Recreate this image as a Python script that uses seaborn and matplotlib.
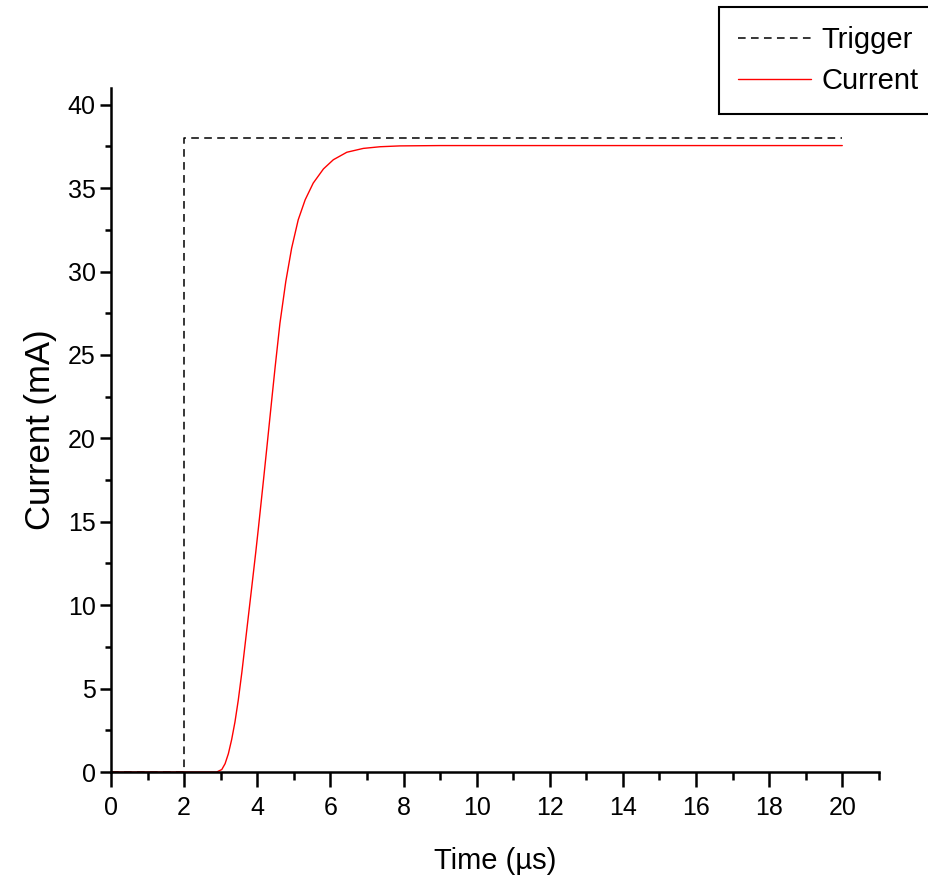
import pandas as pd
import matplotlib.pyplot as plt
import seaborn as sns

# Sinal de disparo (trigger)
trig_t = [0, 2.0, 2.0, 20]
trig_i = [0, 0, 38.0, 38.0]

cur_t = [0, 2.89, 3.03, 3.12, 3.21, 3.30, 3.39, 3.48, 3.58, 3.67, 3.76,
         3.85, 3.96, 4.03, 4.17, 4.26, 4.40, 4.49, 4.62, 4.78, 4.94,
         5.12, 5.31, 5.53, 5.81, 6.08, 6.45, 6.9, 7.36, 7.9, 9.0, 20]
cur_i = [0, 0, 0.15, 0.5, 1.1, 1.95, 3.0, 4.3, 6.0, 7.7, 9.4,
         11.1, 13.2, 14.6, 17.5, 19.4, 22.4, 24.3, 26.9, 29.4, 31.4,
         33.1, 34.3, 35.3, 36.15, 36.7, 37.15, 37.38, 37.48, 37.53, 37.55, 37.55]

df_trig = pd.DataFrame({'t': trig_t, 'i': trig_i})
df_cur = pd.DataFrame({'t': cur_t, 'i': cur_i})

sns.set_theme(style="ticks")
plt.rcParams['font.family'] = ['Liberation Sans', 'DejaVu Sans']
plt.rcParams['text.color'] = 'black'
plt.rcParams['axes.labelcolor'] = 'black'

fig = plt.figure(figsize=(9.29, 8.81), dpi=100)
ax = fig.add_axes([0.1195, 0.1237, 0.8265, 0.7764])

sns.lineplot(data=df_trig, x='t', y='i', ax=ax, sort=False, estimator=None,
             color='black', linewidth=1.1, label='Trigger')
ax.lines[-1].set_dashes((5, 3.5))
sns.lineplot(data=df_cur, x='t', y='i', ax=ax, sort=False, estimator=None,
             color='red', linewidth=1.0, label='Current')

ax.set_xlim(0, 21)
ax.set_ylim(0, 41)
ax.set_xticks(range(0, 21, 2))
ax.set_xticks(range(1, 22, 2), minor=True)
ax.set_yticks(range(0, 41, 5))
ax.set_yticks([2.5 + 5 * k for k in range(8)], minor=True)

for s in ['top', 'right']:
    ax.spines[s].set_visible(False)
for s in ['left', 'bottom']:
    ax.spines[s].set_linewidth(1.8)
    ax.spines[s].set_color('black')

ax.tick_params(axis='x', which='major', length=11, width=1.8, direction='out',
               labelsize=18, pad=6, colors='black')
ax.tick_params(axis='x', which='minor', length=6, width=1.8, direction='out',
               colors='black')
ax.tick_params(axis='y', which='major', length=8, width=1.8, direction='out',
               labelsize=18, pad=3, colors='black')
ax.tick_params(axis='y', which='minor', length=4.5, width=1.8, direction='out',
               colors='black')

ax.set_xlabel('Time (µs)', fontsize=21, labelpad=20)
ax.set_ylabel('Current (mA)', fontsize=25, labelpad=8)

ax.get_legend().remove()
handles, labels = ax.get_legend_handles_labels()
leg = fig.legend(handles, labels, loc='upper left',
                 bbox_to_anchor=(719 / 929, 1 - 7 / 881),
                 fontsize=21, frameon=True, fancybox=False, handlelength=2.5,
                 borderpad=0.65, labelspacing=0.46, handletextpad=0.35,
                 borderaxespad=0)
leg.get_frame().set_edgecolor('black')
leg.get_frame().set_linewidth(1.5)
leg.get_frame().set_alpha(1)

fig.savefig('out.png', dpi=100)
